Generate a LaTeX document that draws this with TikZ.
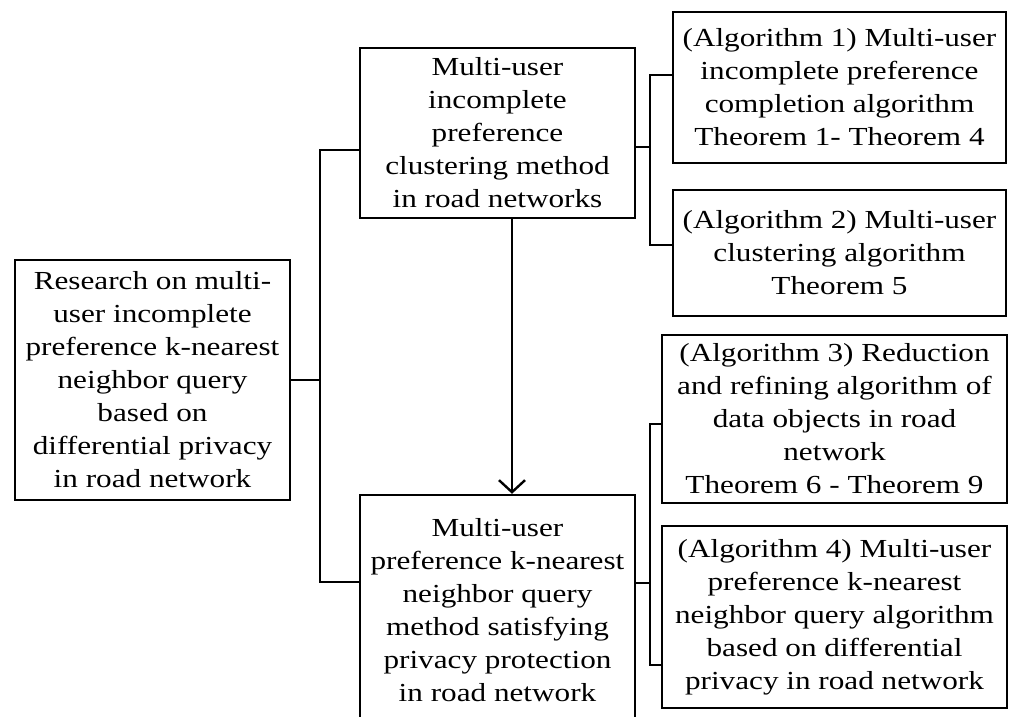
\documentclass[tikz,border=0pt]{standalone}
\usepackage{fontspec}
\setmainfont{Liberation Serif}[FakeStretch=1.2]
\usetikzlibrary{arrows.meta}
\begin{document}
\begin{tikzpicture}[x=1pt,y=-1pt,
  box/.style={draw,line width=2.4pt,rectangle,inner sep=0pt,align=center,
    font=\fontsize{26}{33}\selectfont},
  conn/.style={line width=2.4pt}]
\useasboundingbox (0,0) rectangle (1013,717);
\node[box,minimum width=275pt,minimum height=240pt] (root) at (152.5,380)
  {Research on multi-\\user incomplete\\preference k-nearest\\neighbor query\\based on\\differential privacy\\in road network};
\node[box,minimum width=275pt,minimum height=170pt] (top) at (497.5,133)
  {Multi-user\\incomplete\\preference\\clustering method\\in road networks};
\node[box,minimum width=275pt,minimum height=230pt] (bot) at (497.5,610)
  {Multi-user\\preference k-nearest\\neighbor query\\method satisfying\\privacy protection\\in road network};
\node[box,minimum width=333pt,minimum height=151pt] (a1) at (839.5,87.5)
  {(Algorithm 1) Multi-user\\incomplete preference\\completion algorithm\\Theorem 1- Theorem 4};
\node[box,minimum width=333pt,minimum height=126pt] (a2) at (839.5,253)
  {(Algorithm 2) Multi-user\\clustering algorithm\\Theorem 5};
\node[box,minimum width=345pt,minimum height=168pt] (a3) at (834.5,419)
  {(Algorithm 3) Reduction\\and refining algorithm of\\data objects in road\\network\\Theorem 6 - Theorem 9};
\node[box,minimum width=345pt,minimum height=182pt] (a4) at (834.5,617)
  {(Algorithm 4) Multi-user\\preference k-nearest\\neighbor query algorithm\\based on differential\\privacy in road network};
\coordinate (j1) at (320,380);
\coordinate (j2) at (650,147);
\coordinate (j3) at (650,583);
\draw[conn] (root.east) -- (j1);
\draw[conn] ([yshift=-17pt]top.west) -| (j1) |- ([yshift=28pt]bot.west);
\draw[conn,-{Straight Barb[length=12pt,width=26pt,line width=2.4pt]}] ([xshift=14.5pt]top.south) -- ([xshift=14.5pt]bot.north);
\draw[conn] ([yshift=-14pt]top.east) -- (j2);
\draw[conn] ([yshift=12.5pt]a1.west) -| (j2) |- ([yshift=8pt]a2.west);
\draw[conn] ([yshift=27pt]bot.east) -- (j3);
\draw[conn] ([yshift=-5pt]a3.west) -| (j3) |- ([yshift=-48pt]a4.west);
\end{tikzpicture}
\end{document}
